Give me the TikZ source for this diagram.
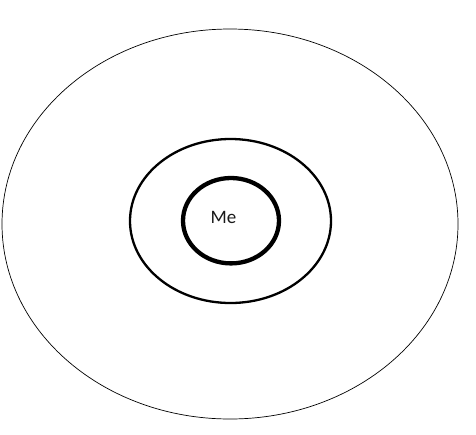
\documentclass[tikz,border=0pt]{standalone}
\usepackage{fontspec}
\setmainfont{Carlito}

\begin{document}
\begin{tikzpicture}[x=1pt,y=-1pt,
   ring/.style={draw=black},
   label/.style={font=\fontsize{19}{22}\selectfont,text=black!90}]
   \useasboundingbox (0,0) rectangle (476,434);
   \draw[ring,line width=0.7pt] (230,224) ellipse (228 and 195);
   \draw[ring,line width=2.3pt] (230.5,221) ellipse (100.5 and 82);
   \draw[ring,line width=4.3pt] (231,220.7) ellipse (48 and 42.7);
   \node[label] (me) at (223.5,217) {Me};
  \end{tikzpicture}
\end{document}
